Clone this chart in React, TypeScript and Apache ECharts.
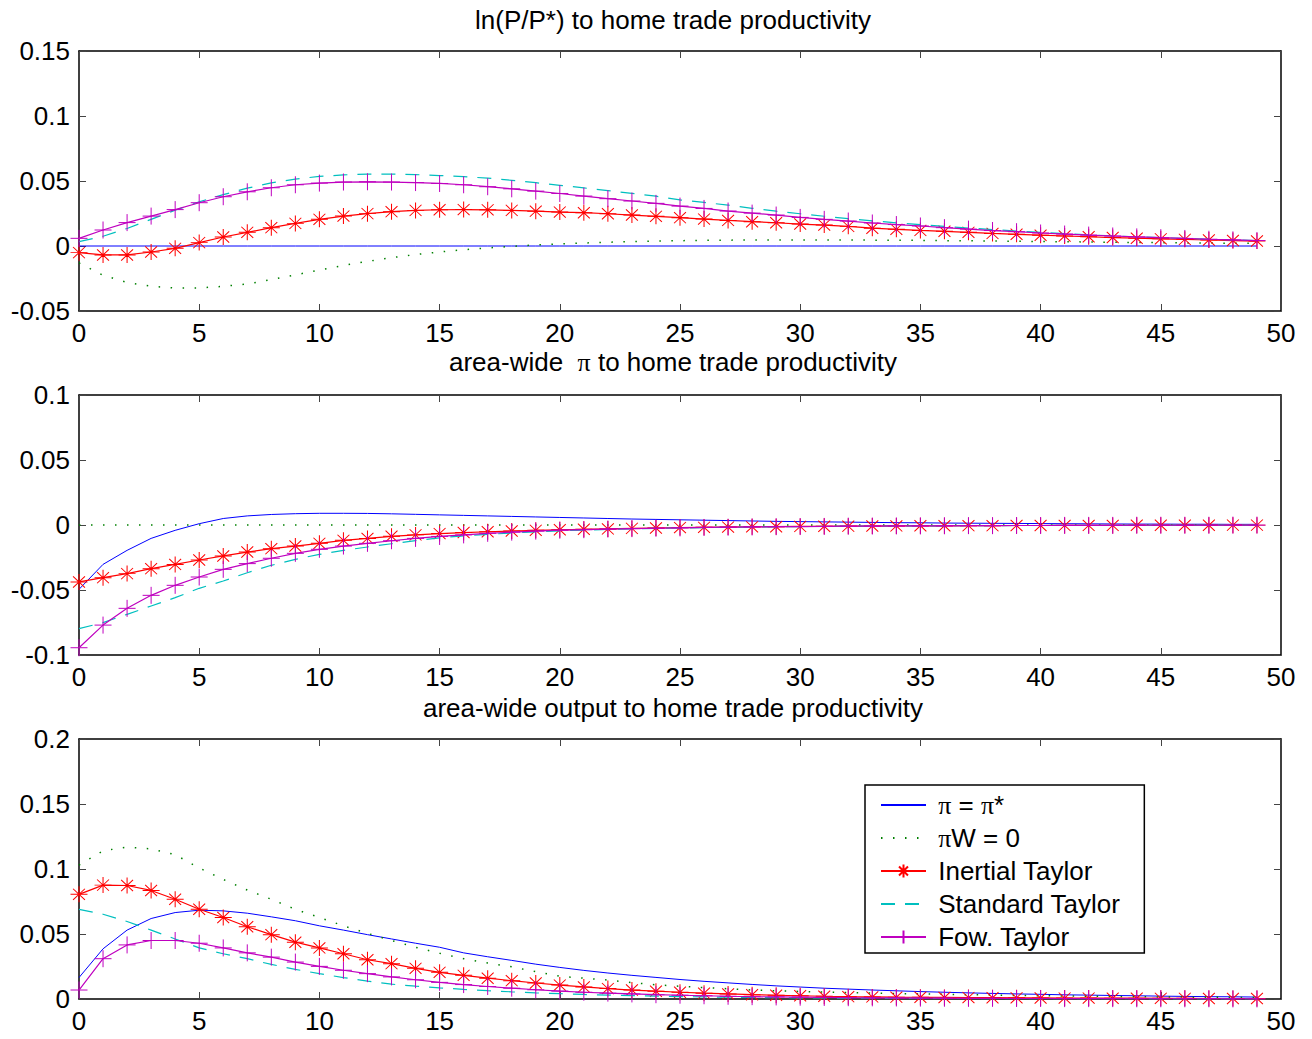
import React, { useEffect, useRef } from "react";
import * as echarts from "echarts";

const steps = [0, 1, 2, 3, 4, 5, 6, 7, 8, 9, 10, 11, 12, 13, 14, 15, 16, 17, 18, 19, 20, 21, 22, 23, 24, 25, 26, 27, 28, 29, 30, 31, 32, 33, 34, 35, 36, 37, 38, 39, 40, 41, 42, 43, 44, 45, 46, 47, 48, 49];

const seriesNames = ["π = π*", "πW = 0", "Inertial Taylor", "Standard Taylor", "Fow. Taylor"];
const panelTitles = [
  "ln(P/P*) to home trade productivity",
  "area-wide  π to home trade productivity",
  "area-wide output to home trade productivity",
];
const yMins = [-0.05, -0.1, 0];
const yMaxs = [0.15, 0.1, 0.2];

// Panel 1: ln(P/P*)
const p1Strict = [0, 0, 0, 0, 0, 0, 0, 0, 0, 0, 0, 0, 0, 0, 0, 0, 0, 0, 0, 0, 0, 0, 0, 0, 0, 0, 0, 0, 0, 0, 0, 0, 0, 0, 0, 0, 0, 0, 0, 0, 0, 0, 0, 0, 0, 0, 0, 0, 0, 0];
const p1Wage = [-0.013, -0.0225, -0.028, -0.031, -0.0323, -0.0323, -0.031, -0.0292, -0.0258, -0.0222, -0.0185, -0.015, -0.0118, -0.009, -0.0066, -0.0046, -0.0029, -0.0015, -0.0003, 0.0008, 0.0016, 0.0023, 0.0029, 0.0034, 0.0038, 0.0041, 0.0043, 0.0045, 0.0046, 0.0047, 0.0047, 0.0047, 0.0046, 0.0045, 0.0044, 0.0043, 0.0041, 0.004, 0.0038, 0.0036, 0.0034, 0.0033, 0.0031, 0.0029, 0.0027, 0.0026, 0.0024, 0.0023, 0.0021, 0.002];
const p1Inertial = [-0.0051, -0.0069, -0.0069, -0.0046, -0.0018, 0.0026, 0.0069, 0.0105, 0.0141, 0.0174, 0.0205, 0.023, 0.0249, 0.0264, 0.0274, 0.0279, 0.028, 0.0278, 0.0274, 0.0268, 0.0261, 0.0256, 0.0248, 0.0238, 0.0228, 0.0218, 0.0207, 0.0197, 0.0187, 0.0179, 0.0169, 0.0161, 0.0151, 0.0137, 0.0128, 0.012, 0.0113, 0.0105, 0.0097, 0.009, 0.0083, 0.0077, 0.0071, 0.0065, 0.006, 0.0055, 0.0051, 0.0046, 0.0042, 0.0038];
const p1Standard = [0.0033, 0.0075, 0.0135, 0.0205, 0.0275, 0.034, 0.0395, 0.0445, 0.0485, 0.0515, 0.0535, 0.0547, 0.0553, 0.0553, 0.0549, 0.0542, 0.0533, 0.0522, 0.0505, 0.0487, 0.0467, 0.0447, 0.0426, 0.0405, 0.0383, 0.0355, 0.0335, 0.0315, 0.029, 0.0268, 0.0248, 0.0229, 0.0211, 0.0194, 0.0178, 0.0164, 0.0151, 0.0138, 0.0126, 0.0115, 0.0105, 0.0095, 0.0086, 0.0078, 0.0071, 0.0064, 0.0058, 0.0052, 0.0047, 0.0042];
const p1Forward = [0.0059, 0.0123, 0.018, 0.023, 0.028, 0.0333, 0.0379, 0.0417, 0.0448, 0.0471, 0.0484, 0.0492, 0.0494, 0.0492, 0.0488, 0.0481, 0.0471, 0.0456, 0.044, 0.0422, 0.0404, 0.0384, 0.0364, 0.0346, 0.0328, 0.0307, 0.0289, 0.0269, 0.0253, 0.0238, 0.022, 0.0205, 0.0192, 0.0177, 0.0165, 0.0154, 0.0141, 0.013, 0.0119, 0.011, 0.01, 0.0092, 0.0084, 0.0077, 0.007, 0.0064, 0.0058, 0.0052, 0.0047, 0.0042];

// Panel 2: area-wide inflation
const p2Strict = [-0.0495, -0.0303, -0.0195, -0.0103, -0.0041, 0.001, 0.005, 0.007, 0.0081, 0.0087, 0.009, 0.009, 0.0089, 0.0086, 0.0082, 0.0078, 0.0074, 0.007, 0.0066, 0.0062, 0.0058, 0.0054, 0.005, 0.0046, 0.0043, 0.004, 0.0037, 0.0034, 0.0031, 0.0028, 0.0026, 0.0024, 0.0022, 0.002, 0.0018, 0.0017, 0.0015, 0.0014, 0.0013, 0.0012, 0.0011, 0.001, 0.0009, 0.0008, 0.0007, 0.0007, 0.0006, 0.0006, 0.0005, 0.0005];
const p2Wage = [0, 0, 0, 0, 0, 0, 0, 0, 0, 0, 0, 0, 0, 0, 0, 0, 0, 0, 0, 0, 0, 0, 0, 0, 0, 0, 0, 0, 0, 0, 0, 0, 0, 0, 0, 0, 0, 0, 0, 0, 0, 0, 0, 0, 0, 0, 0, 0, 0, 0];
const p2Inertial = [-0.0438, -0.0405, -0.0374, -0.0336, -0.0303, -0.0269, -0.0238, -0.0208, -0.0182, -0.0162, -0.0141, -0.0118, -0.0103, -0.0087, -0.0076, -0.0066, -0.0058, -0.0052, -0.0046, -0.0041, -0.0037, -0.0033, -0.003, -0.0026, -0.0023, -0.002, -0.0018, -0.0016, -0.0014, -0.0013, -0.0011, -0.001, -0.0009, -0.0008, -0.0007, -0.0006, -0.0006, -0.0005, -0.0005, -0.0004, -0.0004, -0.0003, -0.0003, -0.0003, -0.0002, -0.0002, -0.0002, -0.0002, -0.0001, -0.0001];
const p2Standard = [-0.0797, -0.0751, -0.0687, -0.0623, -0.0559, -0.0487, -0.0431, -0.0367, -0.031, -0.0264, -0.0226, -0.0195, -0.0169, -0.0144, -0.012, -0.0099, -0.0083, -0.0072, -0.0061, -0.0053, -0.0045, -0.0039, -0.0034, -0.003, -0.0026, -0.0023, -0.002, -0.0018, -0.0016, -0.0014, -0.0012, -0.0011, -0.0009, -0.0008, -0.0007, -0.0007, -0.0006, -0.0005, -0.0005, -0.0004, -0.0004, -0.0003, -0.0003, -0.0003, -0.0002, -0.0002, -0.0002, -0.0002, -0.0001, -0.0001];
const p2Forward = [-0.0944, -0.077, -0.0641, -0.0541, -0.0464, -0.04, -0.0341, -0.0297, -0.0256, -0.0218, -0.0187, -0.0162, -0.0141, -0.0121, -0.0103, -0.0088, -0.0076, -0.0064, -0.0055, -0.0047, -0.004, -0.0036, -0.0031, -0.0028, -0.0025, -0.0022, -0.0019, -0.0017, -0.0015, -0.0013, -0.0012, -0.0011, -0.0009, -0.0008, -0.0007, -0.0007, -0.0006, -0.0005, -0.0005, -0.0004, -0.0004, -0.0003, -0.0003, -0.0003, -0.0002, -0.0002, -0.0002, -0.0002, -0.0001, -0.0001];

// Panel 3: area-wide output
const p3Strict = [0.0165, 0.0386, 0.053, 0.0619, 0.0665, 0.0683, 0.0678, 0.066, 0.0632, 0.0602, 0.0563, 0.053, 0.0495, 0.0462, 0.0429, 0.0398, 0.0355, 0.0325, 0.0297, 0.0268, 0.0243, 0.022, 0.02, 0.0182, 0.0166, 0.015, 0.0136, 0.0124, 0.0112, 0.0101, 0.0092, 0.0083, 0.0076, 0.0069, 0.0063, 0.0057, 0.0052, 0.0047, 0.0043, 0.0039, 0.0036, 0.0032, 0.003, 0.0027, 0.0025, 0.0022, 0.002, 0.0018, 0.0017, 0.0015];
const p3Wage = [0.103, 0.114, 0.1168, 0.1155, 0.111, 0.1008, 0.092, 0.0838, 0.0767, 0.069, 0.0627, 0.0563, 0.0505, 0.045, 0.0398, 0.0352, 0.031, 0.0277, 0.0248, 0.021, 0.0175, 0.016, 0.0146, 0.0126, 0.0109, 0.0098, 0.0088, 0.0079, 0.0069, 0.0063, 0.0058, 0.0053, 0.0049, 0.0045, 0.0042, 0.0039, 0.0036, 0.0033, 0.003, 0.0027, 0.0025, 0.0023, 0.0021, 0.0019, 0.0017, 0.0016, 0.0015, 0.0013, 0.0012, 0.0011];
const p3Inertial = [0.0805, 0.0876, 0.0873, 0.0835, 0.0767, 0.069, 0.0627, 0.0556, 0.0495, 0.0437, 0.0393, 0.0348, 0.0302, 0.0272, 0.0236, 0.0205, 0.0182, 0.016, 0.0141, 0.0123, 0.0107, 0.0093, 0.008, 0.0069, 0.006, 0.0052, 0.0045, 0.0039, 0.0033, 0.0029, 0.0025, 0.0021, 0.0018, 0.0016, 0.0014, 0.0013, 0.0012, 0.0011, 0.001, 0.0009, 0.0008, 0.0007, 0.0007, 0.0006, 0.0006, 0.0005, 0.0005, 0.0004, 0.0004, 0.0004];
const p3Standard = [0.069, 0.0652, 0.0596, 0.053, 0.0462, 0.0393, 0.0348, 0.031, 0.0266, 0.0228, 0.0195, 0.0165, 0.0137, 0.0114, 0.0099, 0.0086, 0.0074, 0.0064, 0.0055, 0.0047, 0.0041, 0.0035, 0.003, 0.0026, 0.0022, 0.0019, 0.0016, 0.0014, 0.0012, 0.001, 0.0009, 0.0008, 0.0007, 0.0006, 0.0005, 0.0005, 0.0004, 0.0004, 0.0003, 0.0003, 0.0003, 0.0002, 0.0002, 0.0002, 0.0002, 0.0001, 0.0001, 0.0001, 0.0001, 0.0001];
const p3Forward = [0.0069, 0.031, 0.0416, 0.045, 0.045, 0.0429, 0.0393, 0.0355, 0.0322, 0.0284, 0.0251, 0.0221, 0.0195, 0.017, 0.0148, 0.0128, 0.0111, 0.0096, 0.0083, 0.0071, 0.0061, 0.0052, 0.0045, 0.0039, 0.0033, 0.0029, 0.0025, 0.0021, 0.0018, 0.0016, 0.0014, 0.0012, 0.001, 0.0009, 0.0008, 0.0007, 0.0006, 0.0005, 0.0005, 0.0004, 0.0004, 0.0003, 0.0003, 0.0003, 0.0002, 0.0002, 0.0002, 0.0002, 0.0001, 0.0001];

const panels = [
  [p1Strict, p1Wage, p1Inertial, p1Standard, p1Forward],
  [p2Strict, p2Wage, p2Inertial, p2Standard, p2Forward],
  [p3Strict, p3Wage, p3Inertial, p3Standard, p3Forward],
];

const FONT = "'Liberation Sans', Arial, Helvetica, sans-serif";
const SERIF = "'Liberation Serif', 'DejaVu Serif', serif";
const FS = 26;
const ASTERISK = "path://M10,0L10,20M0,10L20,10M3,3L17,17M3,17L17,3";
const PLUS = "path://M10,0L10,20M0,10L20,10";
const BLANK = "path://M0,0L10,10";

const GRID_LEFT = 79;
const GRID_WIDTH = 1202;
const GRID_TOPS = [51, 395, 739];
const GRID_HEIGHT = 260;
const TITLE_Y = [20, 362, 708];

const seriesStyles = [
  { color: "#0000ff", lineType: "solid" as any, width: 1, symbol: BLANK, size: 4 as any, marker: false },
  { color: "#008000", lineType: [1.5, 10.5] as any, width: 1.5, symbol: BLANK, size: 4 as any, marker: false },
  { color: "#ff0000", lineType: "solid" as any, width: 1.2, symbol: ASTERISK, size: [17, 16] as any, marker: true },
  { color: "#00bfbf", lineType: [14, 10] as any, width: 1.2, symbol: BLANK, size: 4 as any, marker: false },
  { color: "#bf00bf", lineType: "solid" as any, width: 1.2, symbol: PLUS, size: 17 as any, marker: true },
];

const piRich = { pi: { fontFamily: SERIF, fontSize: FS, color: "#000" } };
const withPi = (s: string) => s.replace(/π/g, "{pi|π}");

function buildOption() {
  const grids: any[] = [];
  const xAxes: any[] = [];
  const yAxes: any[] = [];
  const series: any[] = [];
  const frameLine = { show: true, onZero: false, lineStyle: { color: "#000", width: 1.5 } };
  const tick = { show: true, inside: true, length: 7, lineStyle: { color: "#444", width: 1 } };

  panels.forEach((panel, gi) => {
    grids.push({ left: GRID_LEFT, top: GRID_TOPS[gi], width: GRID_WIDTH, height: GRID_HEIGHT, containLabel: false });
    xAxes.push({
      type: "value", gridIndex: gi, position: "bottom", min: 0, max: 50, interval: 5,
      axisLine: frameLine, axisTick: tick, splitLine: { show: false },
      axisLabel: { show: true, color: "#000", fontSize: FS, fontFamily: FONT, margin: 9 },
    });
    xAxes.push({
      type: "value", gridIndex: gi, position: "top", min: 0, max: 50, interval: 5,
      axisLine: frameLine, axisTick: tick, splitLine: { show: false }, axisLabel: { show: false },
    });
    yAxes.push({
      type: "value", gridIndex: gi, position: "left", min: yMins[gi], max: yMaxs[gi], interval: 0.05,
      axisLine: frameLine, axisTick: tick, splitLine: { show: false },
      axisLabel: { show: true, color: "#000", fontSize: FS, fontFamily: FONT, margin: 9 },
    });
    yAxes.push({
      type: "value", gridIndex: gi, position: "right", min: yMins[gi], max: yMaxs[gi], interval: 0.05,
      axisLine: frameLine, axisTick: tick, splitLine: { show: false }, axisLabel: { show: false },
    });
    panel.forEach((values, si) => {
      const st = seriesStyles[si];
      series.push({
        name: seriesNames[si],
        type: "line",
        xAxisIndex: gi * 2,
        yAxisIndex: gi * 2,
        data: steps.map((s, k) => [s, values[k]]),
        symbol: st.symbol,
        symbolSize: st.size,
        showSymbol: st.marker,
        smooth: false,
        clip: true,
        lineStyle: { color: st.color, width: st.width, type: st.lineType },
        itemStyle: { color: st.color, borderColor: st.color, borderWidth: st.marker ? 1 : 0 },
        emphasis: { disabled: true },
        z: 2 + si,
      });
    });
  });

  return {
    animation: false,
    backgroundColor: "#ffffff",
    grid: grids,
    xAxis: xAxes,
    yAxis: yAxes,
    series,
    legend: {
      show: true,
      data: seriesNames,
      orient: "vertical",
      left: 865,
      top: 785,
      itemWidth: 45,
      itemHeight: 16,
      itemGap: 7,
      padding: [7, 24, 3, 15],
      backgroundColor: "#ffffff",
      borderColor: "#000",
      borderWidth: 1.5,
      borderRadius: 0,
      selectedMode: false,
      formatter: (name: string) => " " + withPi(name),
      textStyle: { color: "#000", fontSize: FS, fontFamily: FONT, lineHeight: 26, rich: piRich },
    },
    graphic: panelTitles.map((t, i) => ({
      type: "text",
      x: 673,
      y: TITLE_Y[i],
      style: {
        text: withPi(t),
        fontSize: FS,
        fontFamily: FONT,
        fill: "#000",
        align: "center",
        verticalAlign: "middle",
        rich: piRich,
      },
    })),
  };
}

export default function App() {
  const ref = useRef<HTMLDivElement>(null);
  useEffect(() => {
    if (!ref.current) return;
    const chart = echarts.init(ref.current, null, { renderer: "svg" });
    chart.setOption(buildOption() as any);
    return () => chart.dispose();
  }, []);
  return (
    <div
      ref={ref}
      style={{ position: "fixed", left: 0, top: 0, width: 1312, height: 1039, background: "#fff" }}
    />
  );
}
